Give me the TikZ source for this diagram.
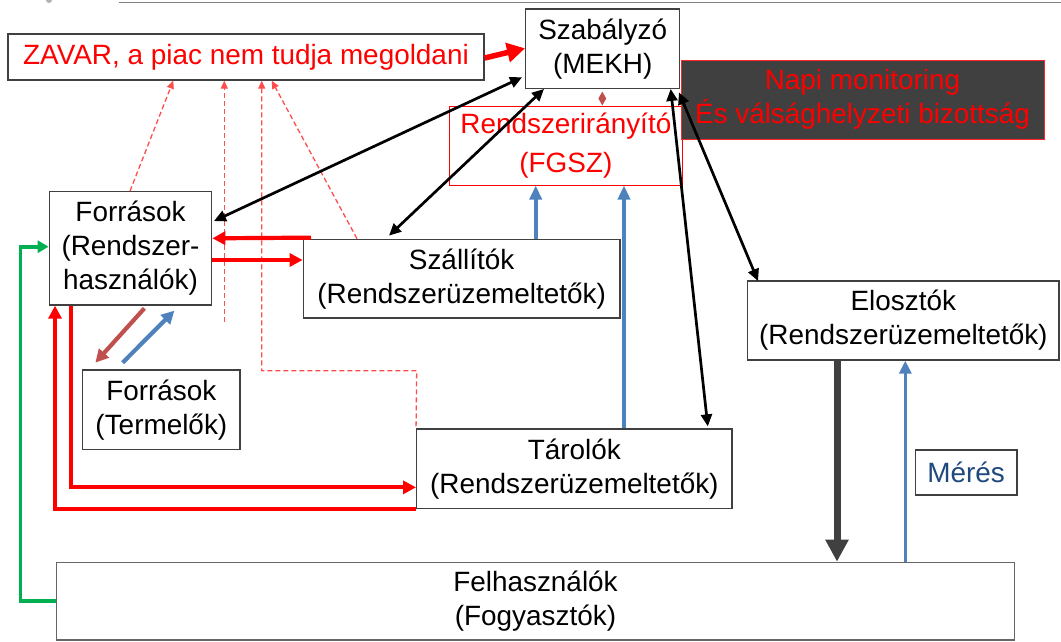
\documentclass[tikz,border=0pt]{standalone}
\usepackage{fontspec}
\setmainfont{Liberation Sans}
\usetikzlibrary{arrows.meta,calc,shapes.geometric}
\definecolor{boxline}{HTML}{404040}
\definecolor{bluea}{HTML}{4F81BD}
\definecolor{browna}{HTML}{C0504D}
\definecolor{greena}{HTML}{00B050}
\definecolor{meresblue}{HTML}{1F497D}
\definecolor{darkfill}{HTML}{404040}
\definecolor{dashred}{HTML}{FF4D4D}
\tikzset{
  box/.style={draw=boxline, line width=1.3pt, fill=white, inner sep=0pt, align=center,
    font=\fontsize{27.9pt}{34pt}\selectfont, text=black},
  blkarrow/.style={draw=black, line width=2.7pt,
    {Triangle[length=12pt,width=11pt]}-{Triangle[length=12pt,width=11pt]}},
  redarrow/.style={draw=red, line width=4.2pt, -{Triangle[length=13pt,width=13pt]}},
  bluearrow/.style={draw=bluea, line width=4pt, -{Triangle[length=14pt,width=12pt]}},
  dashl/.style={draw=dashred, line width=1.3pt, dash pattern=on 5pt off 3pt},
  dashtip/.style={-{Triangle[length=8pt,width=7pt]}},
}
\begin{document}
\begin{tikzpicture}[x=1pt,y=-1pt]
\useasboundingbox (0,0) rectangle (1061,641);
% top rule
\draw[gray, line width=1pt] (119,2.5) -- (1061,2.5);
\fill[gray!60] (49,0) circle (3pt);

% boxes
\node[box, text=red, minimum width=476pt, minimum height=46pt] (zavar) at (246,57) {ZAVAR, a piac nem tudja megoldani};
\node[box, minimum width=154pt, minimum height=79.3pt] (mekh) at (602.7,48.65) {Szabályzó\\(MEKH)};
\node[box, draw=red, line width=1pt, text=red, font=\fontsize{27.9pt}{39pt}\selectfont, minimum width=232.3pt, minimum height=79pt] (fgsz) at (565.85,145.5) {Rendszerirányító\\(FGSZ)};
\node[box, draw=red!85, fill=darkfill, line width=1pt, text=red, minimum width=363pt, minimum height=79.3pt] (napi) at (862.5,99.65) {Napi monitoring\\És válsághelyzeti bizottság};
\node[box, minimum width=162.4pt, minimum height=113.3pt] (forr) at (130.5,248.35) {Források\\(Rendszer-\\használók)};
\node[box, minimum width=316.7pt, minimum height=78.7pt] (szall) at (461.65,278.65) {Szállítók\\(Rendszerüzemeltetők)};
\node[box, minimum width=157.3pt, minimum height=79.3pt] (term) at (161.35,409.65) {Források\\(Termelők)};
\node[box, minimum width=315.3pt, minimum height=79.3pt] (tarol) at (574.35,468.65) {Tárolók\\(Rendszerüzemeltetők)};
\node[box, minimum width=311.3pt, minimum height=79pt] (eloszt) at (903.35,320.5) {Elosztók\\(Rendszerüzemeltetők)};
\node[box, text=meresblue, minimum width=101.7pt, minimum height=45pt] (meres) at (966.15,472.5) {Mérés};
\node[box, draw=boxline!80, minimum width=957.6pt, minimum height=77.7pt] (felh) at (535.5,601.15) {Felhasználók\\(Fogyasztók)};

% diamond between MEKH and FGSZ
\node[diamond, fill=browna, inner sep=0pt, minimum width=8pt, minimum height=14pt, aspect=0.6] (diam) at (602.3,98.5) {};

% dashed red arrows to ZAVAR
\coordinate (d2end) at (224.3,321.7);
\draw[dashl, dashtip] (130,0 |- forr.north) -- (173.3,0 |- zavar.south);
\draw[dashl, dashtip] (d2end) -- (224.3,0 |- zavar.south);
\draw[dashl, {Triangle[length=8pt,width=7pt]}-] (261.7,0 |- zavar.south) -- (261.7,370.7) -- (416.7,370.7) -- (tarol.north west);
\draw[dashl, dashtip] (357,0 |- szall.north) -- (271.7,0 |- zavar.south);

% thick red arrow ZAVAR -> MEKH
\draw[draw=red, line width=5.5pt, -{Triangle[length=18pt,width=19pt]}] (zavar.east |- 0,58) -- (mekh.west |- 0,48.3);

% black double arrows from MEKH
\draw[blkarrow] ($(forr.north east)+(1.6,30)$) -- ($(mekh.west |- 0,77.3)+(-3,0)$);
\draw[blkarrow] (544,0 |- mekh.south) -- ($(389,0 |- szall.north)+(0,-3)$);
\draw[blkarrow] (670.7,0 |- mekh.south) -- ($(707.8,0 |- tarol.north)+(0,-2)$);
\draw[blkarrow] ($(mekh.south east)+(-1.4,3.4)$) -- ($(eloszt.north west)+(11,0.7)$);

% red arrows Forrasok <-> Szallitok
\draw[redarrow] (311,0 |- szall.north) ++(0,-1) -- (forr.east |- 0,238.3);
\draw[redarrow] (forr.east |- 0,260) -- (szall.west |- 0,260);

% red L arrows Forrasok <-> Tarolok
\draw[redarrow] (70.7,0 |- forr.south) |- ($(tarol.south west)+(0,-21.6)$);
\draw[redarrow] (tarol.south west) -| (55,0 |- forr.south);

% green arrow Felhasznalok -> Forrasok
\draw[draw=greena, line width=3.6pt, -{Triangle[length=11pt,width=12pt]}] (felh.west) -| ($(forr.west)+(-28.3,-1.65)$) -- ($(forr.west)+(0,-1.65)$);

% Forrasok <-> Termelok
\draw[draw=browna, line width=4.2pt, -{Triangle[length=13pt,width=13pt]}] ($(forr.south west)+(95.7,2.7)$) -- ($(term.north west)+(13.3,-6.7)$);
\draw[draw=bluea, line width=4.2pt, -{Triangle[length=13pt,width=13pt]}] ($(term.north west)+(40.6,-6.7)$) -- ($(forr.south west)+(125.7,5)$);

% blue arrows to FGSZ
\draw[bluearrow] (535.7,0 |- szall.north) -- (535.7,0 |- fgsz.south);
\draw[bluearrow] (624,0 |- tarol.north) -- (624,0 |- fgsz.south);

% Elosztok <-> Felhasznalok
\draw[draw=darkfill, line width=7pt, -{Triangle[length=22pt,width=22pt]}] (837,0 |- eloszt.south) -- (837,0 |- felh.north);
\draw[draw=bluea, line width=3.3pt, -{Triangle[length=13pt,width=12pt]}] (905.3,0 |- felh.north) -- (905.3,0 |- eloszt.south);
\end{tikzpicture}
\end{document}
